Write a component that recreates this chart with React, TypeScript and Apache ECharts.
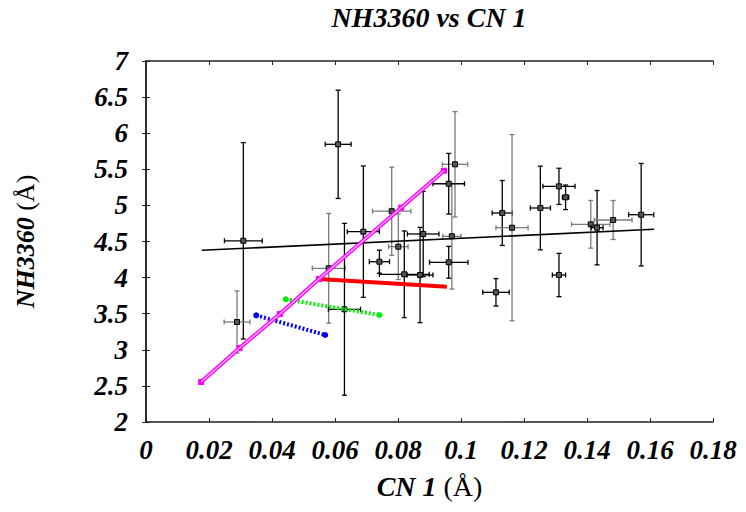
import React, { useEffect, useRef } from "react";
import * as echarts from "echarts";

const cnX = [0.0309, 0.061, 0.0289, 0.058, 0.069, 0.063, 0.0741, 0.0801, 0.078, 0.082, 0.087, 0.088, 0.0971, 0.0981, 0.0961, 0.0961, 0.1111, 0.1131, 0.1162, 0.1252, 0.1311, 0.1332, 0.1311, 0.1412, 0.1432, 0.1483, 0.1572];
const cnXErr = [0.006, 0.0041, 0.0041, 0.0052, 0.0051, 0.0051, 0.0032, 0.0031, 0.0061, 0.0079, 0.0041, 0.005, 0.0029, 0.004, 0.005, 0.0061, 0.0042, 0.0032, 0.0051, 0.0032, 0.0051, 0.001, 0.0021, 0.0061, 0.0019, 0.006, 0.004];
const nhY = [4.51, 5.846, 3.385, 4.129, 4.636, 3.561, 4.22, 4.428, 4.92, 4.046, 4.036, 4.604, 4.572, 5.569, 5.3, 4.212, 3.796, 4.895, 4.691, 4.964, 5.264, 5.112, 4.036, 4.738, 4.691, 4.798, 4.871];
const nhYErr = [1.36, 0.75, 0.43, 0.76, 0.91, 1.19, 0.16, 0.455, 0.61, 0.6, 0.66, 0.59, 0.73, 0.73, 0.42, 0.22, 0.19, 0.45, 1.29, 0.58, 0.25, 0.17, 0.3, 0.33, 0.515, 0.27, 0.71];
const greyErrorIdx = [2, 3, 7, 8, 12, 13, 18, 23, 25];

const blackFit = [[0.0177, 4.378], [0.1613, 4.669]];
const magentaFit = [[0.0175, 2.554], [0.0297, 3.025], [0.0425, 3.496], [0.0549, 3.98], [0.081, 4.968], [0.0946, 5.48]];
const redFit = [[0.0549, 3.98], [0.0955, 3.874]];
const greenFit = [[0.0444, 3.699], [0.0741, 3.482]];
const blueFit = [[0.035, 3.478], [0.0569, 3.205]];

const xTicks = { min: 0, max: 0.18, interval: 0.02 };
const yTicks = { min: 2, max: 7, interval: 0.5 };

const FONT = "Liberation Serif";

export default function App() {
  const ref = useRef<HTMLDivElement>(null);
  useEffect(() => {
    if (!ref.current) return;
    const chart = echarts.init(ref.current, null, { renderer: "svg" });
    const errData = cnX.map((x, i) => [x, cnXErr[i], nhY[i], nhYErr[i]]);
    const axisLine = { show: true, lineStyle: { color: "#222", width: 1.5 } };
    const tick = { show: true, inside: true, length: 4, lineStyle: { color: "#222", width: 1 } };
    const labelStyle = {
      fontFamily: FONT,
      fontWeight: "bold",
      fontStyle: "italic",
      fontSize: 27,
      color: "#000",
    };
    const option: any = {
      animation: false,
      grid: { left: 146, top: 61, right: 33, bottom: 90 },
      graphic: [
        {
          type: "text",
          x: 429,
          y: 17,
          style: {
            text: "NH3360 vs CN 1",
            fontFamily: FONT,
            fontWeight: "bold",
            fontStyle: "italic",
            fontSize: 28,
            fill: "#000",
            textAlign: "center",
            textVerticalAlign: "middle",
          },
        },
      ],
      xAxis: [
        {
          type: "value",
          position: "bottom",
          ...xTicks,
          axisLine,
          axisTick: tick,
          splitLine: { show: false },
          axisLabel: { ...labelStyle, margin: 14 },
          name: "{b|CN 1 }{n|(Å)}",
          nameLocation: "middle",
          nameGap: 50,
          nameTextStyle: {
            rich: {
              b: { fontFamily: FONT, fontWeight: "bold", fontStyle: "italic", fontSize: 28, color: "#000" },
              n: { fontFamily: FONT, fontSize: 28, color: "#000" },
            },
          },
        },
        {
          type: "value",
          position: "top",
          ...xTicks,
          axisLine,
          axisTick: tick,
          splitLine: { show: false },
          axisLabel: { show: false },
        },
      ],
      yAxis: [
        {
          type: "value",
          position: "left",
          ...yTicks,
          axisLine,
          axisTick: tick,
          splitLine: { show: false },
          axisLabel: { ...labelStyle, margin: 18 },
          name: "{b|NH3360 }{n|(Å)}",
          nameLocation: "middle",
          nameGap: 108,
          nameRotate: 90,
          nameTextStyle: {
            rich: {
              b: { fontFamily: FONT, fontWeight: "bold", fontStyle: "italic", fontSize: 26, color: "#000" },
              n: { fontFamily: FONT, fontSize: 26, color: "#000" },
            },
          },
        },
        {
          type: "value",
          position: "right",
          ...yTicks,
          axisLine,
          axisTick: tick,
          splitLine: { show: false },
          axisLabel: { show: false },
        },
      ],
      series: [
        {
          type: "custom",
          xAxisIndex: 0,
          yAxisIndex: 0,
          data: errData,
          renderItem: (params: any, api: any) => {
            const x = api.value(0);
            const xe = api.value(1);
            const y = api.value(2);
            const ye = api.value(3);
            const c = api.coord([x, y]);
            const l = api.coord([x - xe, y]);
            const r = api.coord([x + xe, y]);
            const t = api.coord([x, y + ye]);
            const b = api.coord([x, y - ye]);
            const col = greyErrorIdx.indexOf(params.dataIndex) >= 0 ? "#7a7a7a" : "#000";
            const st = { stroke: col, lineWidth: 1.3 };
            const cap = 2.5;
            const line = (x1: number, y1: number, x2: number, y2: number) => ({
              type: "line",
              shape: { x1, y1, x2, y2 },
              style: st,
            });
            return {
              type: "group",
              children: [
                line(l[0], c[1], r[0], c[1]),
                line(l[0], c[1] - cap, l[0], c[1] + cap),
                line(r[0], c[1] - cap, r[0], c[1] + cap),
                line(c[0], t[1], c[0], b[1]),
                line(c[0] - cap, t[1], c[0] + cap, t[1]),
                line(c[0] - cap, b[1], c[0] + cap, b[1]),
                {
                  type: "rect",
                  shape: { x: c[0] - 2.5, y: c[1] - 2.5, width: 5, height: 5 },
                  style: { fill: "#555", stroke: "#000", lineWidth: 1 },
                },
              ],
            };
          },
          z: 2,
        },
        {
          type: "line",
          data: blackFit,
          showSymbol: false,
          symbol: "none",
          lineStyle: { color: "#000", width: 1.6 },
          z: 3,
        },
        {
          type: "line",
          data: redFit,
          symbol: "none",
          lineStyle: { color: "#ff0000", width: 4 },
          z: 3,
        },
        {
          type: "line",
          data: greenFit,
          symbol: "circle",
          symbolSize: 6,
          itemStyle: { color: "#00ee00" },
          lineStyle: { color: "#00ee00", width: 4, type: [2, 2] },
          z: 3,
        },
        {
          type: "line",
          data: blueFit,
          symbol: "circle",
          symbolSize: 6,
          itemStyle: { color: "#0000ff" },
          lineStyle: { color: "#0000ff", width: 4, type: [2, 2] },
          z: 3,
        },
        {
          type: "line",
          data: magentaFit,
          symbol: "rect",
          symbolSize: 6,
          itemStyle: { color: "#ff00ff" },
          lineStyle: { color: "#ff00ff", width: 4 },
          z: 4,
        },
        {
          type: "line",
          data: magentaFit,
          symbol: "none",
          lineStyle: { color: "#ffaaff", width: 1.5 },
          z: 5,
        },
      ],
    };
    chart.setOption(option);
    return () => chart.dispose();
  }, []);
  return (
    <div
      ref={ref}
      style={{ position: "fixed", left: 0, top: 0, width: 746, height: 512, background: "#fff" }}
    />
  );
}
